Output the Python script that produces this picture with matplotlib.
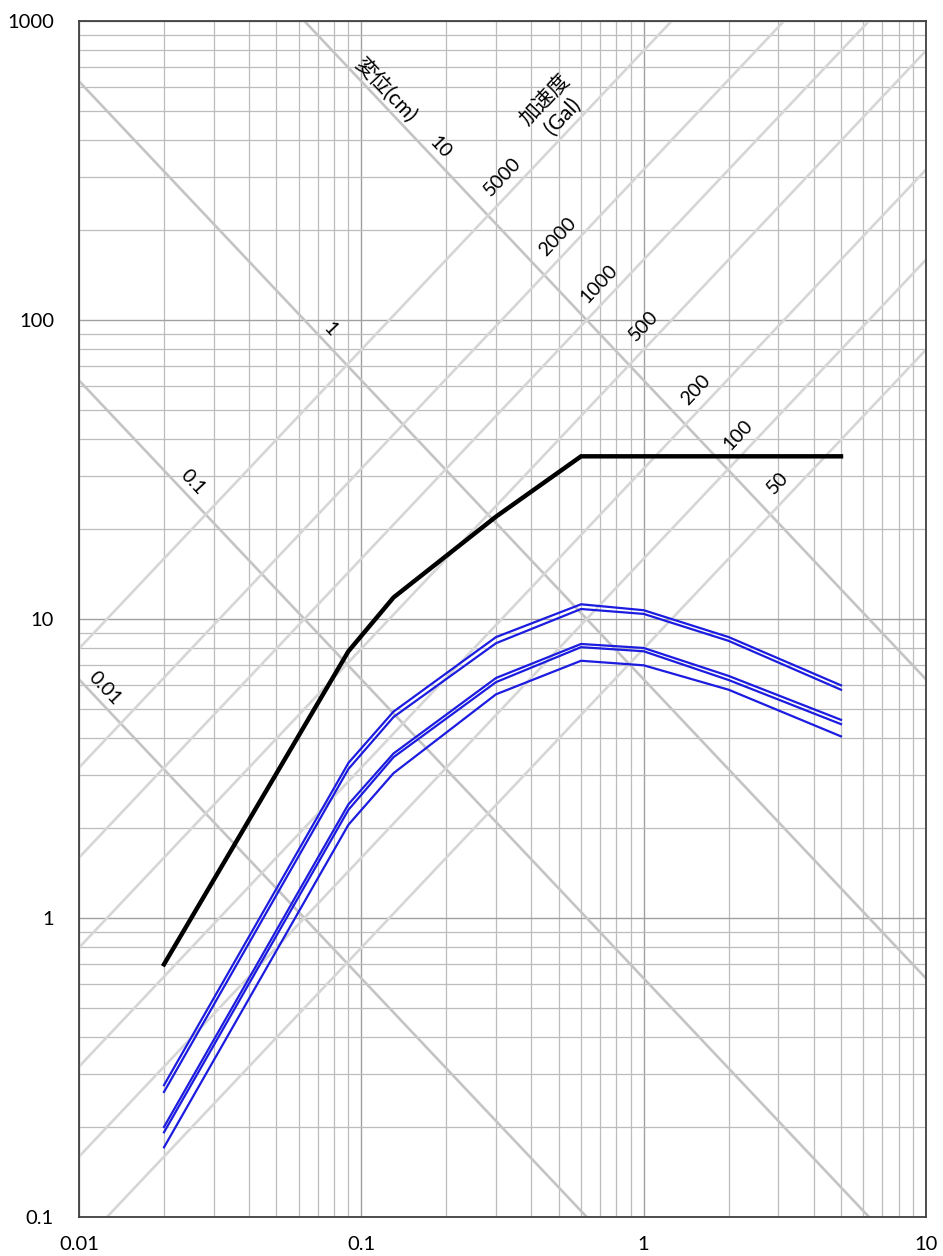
import numpy as np
import matplotlib
matplotlib.use('Agg')
import matplotlib.pyplot as plt
from matplotlib.ticker import FixedLocator, LogLocator, NullFormatter

# 周期 (s) と 速度応答 (cm/s)
black_period = [0.02, 0.09, 0.13, 0.3, 0.6, 5.0]
black_sv = [0.7, 7.8, 11.8, 22.0, 35.0, 35.0]

blue_period = [0.02, 0.09, 0.13, 0.3, 0.6, 1.0, 2.0, 5.0]
blue_1 = [0.276, 3.30, 4.90, 8.70, 11.2, 10.7, 8.70, 6.00]
blue_2 = [0.262, 3.15, 4.70, 8.30, 10.8, 10.4, 8.45, 5.80]
blue_3 = [0.200, 2.40, 3.55, 6.35, 8.25, 8.00, 6.45, 4.60]
blue_4 = [0.192, 2.30, 3.45, 6.15, 8.05, 7.80, 6.25, 4.45]
blue_5 = [0.171, 2.05, 3.05, 5.60, 7.25, 7.00, 5.80, 4.05]

# 補助線: 変位 (cm) と 加速度 (Gal)
disp_values = [0.01, 0.1, 1, 10]
disp_labels = ['0.01', '0.1', '1', '10']
disp_label_T = [0.0123, 0.0252, 0.0776, 0.1906]

acc_values = [5000, 2000, 1000, 500, 200, 100, 50]
acc_labels = ['5000', '2000', '1000', '500', '200', '100', '50']
acc_label_T = [0.316, 0.4955, 0.6925, 1.0, 1.528, 2.154, 2.985]

x_ticks = [0.01, 0.1, 1, 10]
x_ticklabels = ['0.01', '0.1', '1', '10']
y_ticks = [0.1, 1, 10, 100, 1000]
y_ticklabels = ['0.1', '1', '10', '100', '1000']

num_font = 'Lato'
jp_font = ['Lato', 'Noto Sans CJK JP', 'DejaVu Sans']

fig = plt.figure(figsize=(9.43, 12.56), dpi=100)
ax = fig.add_axes([79/943, 1 - 1217/1256, (926 - 79)/943, (1217 - 21)/1256])
ax.set_xscale('log')
ax.set_yscale('log')
ax.set_xlim(0.01, 10)
ax.set_ylim(0.1, 1000)

# 格子
ax.xaxis.set_minor_locator(LogLocator(base=10, subs=np.arange(2, 10)))
ax.yaxis.set_minor_locator(LogLocator(base=10, subs=np.arange(2, 10)))
ax.xaxis.set_minor_formatter(NullFormatter())
ax.yaxis.set_minor_formatter(NullFormatter())
ax.grid(which='major', color='#a0a0a0', linewidth=1.0, zorder=0)
ax.grid(which='minor', color='#bcbcbc', linewidth=0.9, zorder=0)
ax.set_axisbelow(True)

ax.xaxis.set_major_locator(FixedLocator(x_ticks))
ax.set_xticklabels(x_ticklabels, fontfamily=num_font, fontsize=14.5)
ax.yaxis.set_major_locator(FixedLocator(y_ticks))
ax.set_yticklabels(y_ticklabels, fontfamily=num_font, fontsize=14.5)
ax.tick_params(which='both', length=0)
ax.tick_params(axis='x', pad=14)
ax.tick_params(axis='y', pad=18)

for sp in ax.spines.values():
    sp.set_color('#404040')
    sp.set_linewidth(1.3)

two_pi = 2 * np.pi
t_end = np.array([0.001, 100.0])

# 変位一定線 Sv = 2*pi*D/T
for d in disp_values:
    ax.plot(t_end, two_pi * d / t_end, color='#c4c4c4', linewidth=1.9, zorder=1)
# 加速度一定線 Sv = A*T/(2*pi)
for a in acc_values:
    ax.plot(t_end, a * t_end / two_pi, color='#d6d6d6', linewidth=1.9, zorder=1)

# 文字の回転角を画面上の傾きから求める
p0 = ax.transData.transform((0.1, 1))
p1 = ax.transData.transform((1, 10))
ang = np.degrees(np.arctan2(p1[1] - p0[1], p1[0] - p0[0]))

for d, lab, t in zip(disp_values, disp_labels, disp_label_T):
    ax.text(t, two_pi * d / t * 1.15, lab, rotation=-ang, ha='center', va='center',
            fontfamily=num_font, fontsize=14, zorder=3)
for a, lab, t in zip(acc_values, acc_labels, acc_label_T):
    ax.text(t, a * t / two_pi * 1.2, lab, rotation=ang, ha='center', va='center',
            fontfamily=num_font, fontsize=14, zorder=3)

ax.text(0.1216, 588, '変位(cm)', rotation=-ang, ha='center', va='center',
        family=jp_font, fontsize=15, zorder=3)
ax.text(0.48, 511, '加速度\n(Gal)', rotation=ang, ha='center', va='center',
        family=jp_font, fontsize=15, linespacing=1.25, multialignment='center', zorder=3)

# 応答曲線
for s in [blue_1, blue_2, blue_3, blue_4, blue_5]:
    ax.plot(blue_period, s, color='#1c1ce0', linewidth=1.6, zorder=4)
ax.plot(black_period, black_sv, color='black', linewidth=3.2, zorder=5,
        solid_joinstyle='miter')

fig.savefig('out.png', dpi=100)
